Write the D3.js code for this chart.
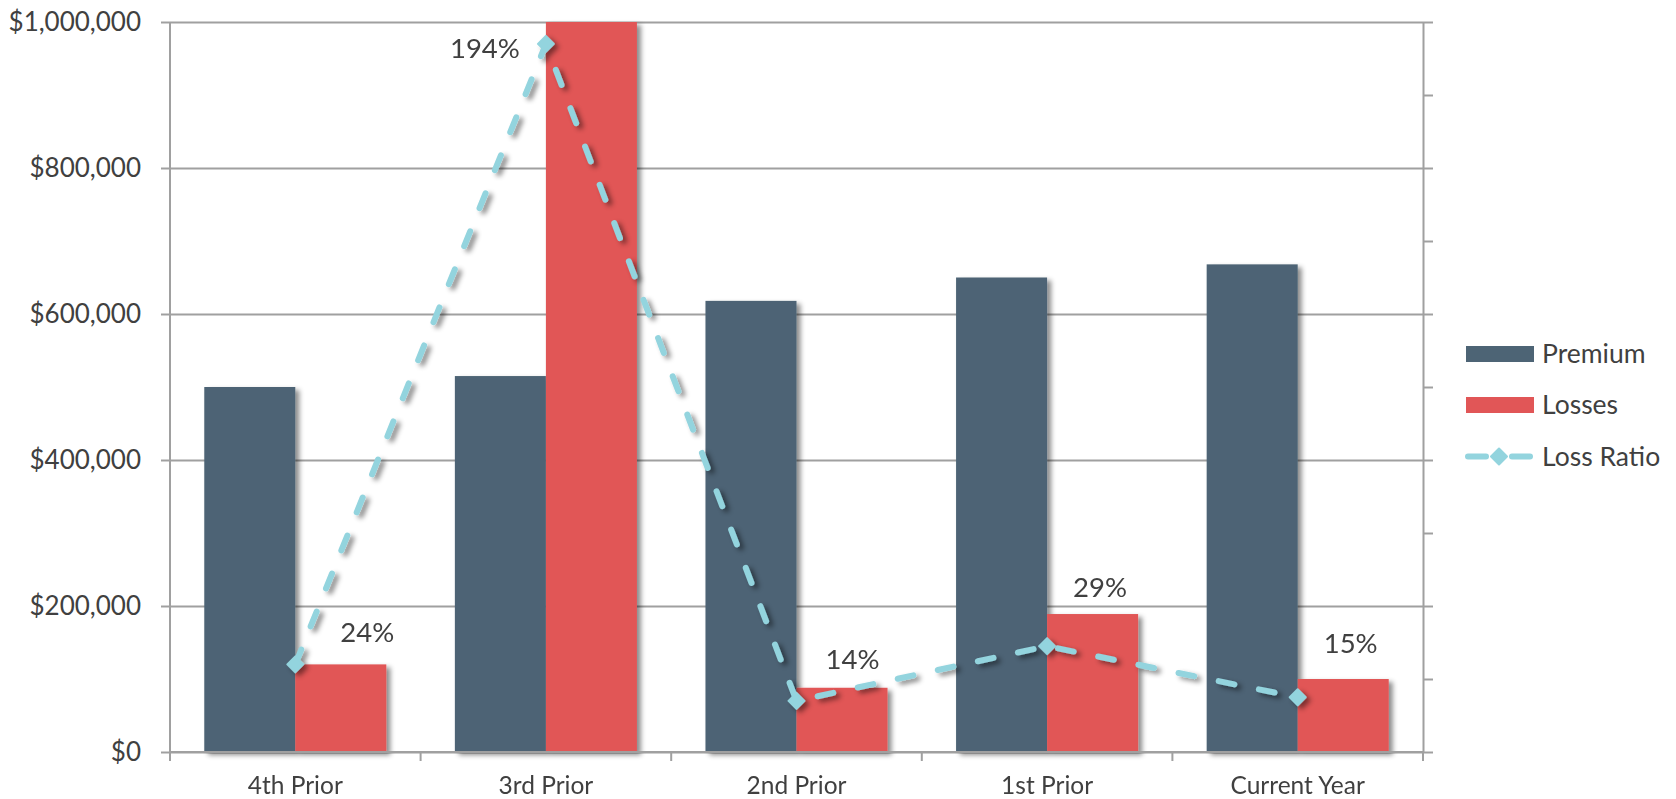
<!DOCTYPE html>
<html>
<head>
<meta charset="utf-8">
<script src="https://cdn.jsdelivr.net/npm/d3@7/dist/d3.min.js"></script>
<style>
  html, body { margin: 0; padding: 0; background: #ffffff; }
  svg { display: block; font-family: Lato, "Open Sans", "Noto Sans", sans-serif; }
</style>
</head>
<body>
<svg id="chart" width="1676" height="799"></svg>
<script>
// Policy years on the category axis
const categories = ["4th Prior", "3rd Prior", "2nd Prior", "1st Prior", "Current Year"];
// Written premium per year (USD)
const premium = [500000, 515000, 618000, 650000, 668000];
// Incurred losses per year (USD)
const losses = [120000, 1000000, 88000, 189000, 100000];
// Loss ratio per year (share of premium)
const lossRatio = [0.24, 1.94, 0.14, 0.29, 0.15];
// Left axis ticks (USD)
const moneyTicks = [0, 200000, 400000, 600000, 800000, 1000000];
// Right axis ticks (ratio, unlabelled)
const ratioTicks = [0, 0.2, 0.4, 0.6, 0.8, 1.0, 1.2, 1.4, 1.6, 1.8, 2.0];
const seriesNames = ["Premium", "Losses", "Loss Ratio"];

// Label nudges for the loss-ratio labels, relative to each marker
const labelNudge = [[72, -32], [-61, 4], [56, -42], [53, -59], [53, -54]];

const colors = { premium: "#4d6475", losses: "#e15657", ratio: "#93d4de", text: "#404040", grid: "#a0a0a0" };

const svg = d3.select("#chart");
const plot = { left: 170, right: 1423, top: 22, bottom: 752 };

// Drop shadow used by bars and the ratio line
const defs = svg.append("defs");
const shadow = defs.append("filter").attr("id", "shadow")
  .attr("x", "-20%").attr("y", "-20%").attr("width", "150%").attr("height", "150%");
shadow.append("feDropShadow")
  .attr("dx", 4).attr("dy", 3).attr("stdDeviation", 2.6)
  .attr("flood-color", "#000").attr("flood-opacity", 0.45);

const x = d3.scaleBand().domain(categories)
  .range([plot.left, plot.right]).paddingInner(0.2735).paddingOuter(0.2735 / 2);
const xSeries = d3.scaleBand().domain(["premium", "losses"]).range([0, x.bandwidth()]).padding(0);
const yMoney = d3.scaleLinear().domain([0, 1000000]).range([plot.bottom, plot.top]);
const yRatio = d3.scaleLinear().domain([0, 2]).range([plot.bottom, plot.top]);

// Horizontal gridlines with left ticks
const fmtMoney = v => "$" + d3.format(",")(v);
const leftAxis = d3.axisLeft(yMoney).tickValues(moneyTicks).tickFormat(fmtMoney)
  .tickSizeInner(-(plot.right - plot.left)).tickSizeOuter(0).tickPadding(29);
const gLeft = svg.append("g").attr("transform", `translate(${plot.left},0)`).call(leftAxis);
gLeft.select(".domain").remove();
gLeft.selectAll(".tick line").attr("stroke", colors.grid).attr("stroke-width", 2);
gLeft.selectAll(".tick").append("line")
  .attr("x1", -9).attr("x2", 0).attr("stroke", colors.grid).attr("stroke-width", 2);
gLeft.selectAll(".tick text").attr("fill", colors.text).attr("font-size", 26)
  .attr("font-family", "Lato, sans-serif");

// Bars
const groups = svg.append("g").attr("filter", "url(#shadow)");
categories.forEach((c, i) => {
  const g = groups.append("g").attr("transform", `translate(${x(c)},0)`);
  g.append("rect")
    .attr("x", xSeries("premium")).attr("width", xSeries.bandwidth())
    .attr("y", yMoney(premium[i])).attr("height", yMoney(0) - yMoney(premium[i]))
    .attr("fill", colors.premium);
  g.append("rect")
    .attr("x", xSeries("losses")).attr("width", xSeries.bandwidth())
    .attr("y", yMoney(losses[i])).attr("height", yMoney(0) - yMoney(losses[i]))
    .attr("fill", colors.losses);
});

// Vertical axis lines
svg.append("line").attr("x1", plot.left).attr("x2", plot.left)
  .attr("y1", plot.top).attr("y2", plot.bottom + 9)
  .attr("stroke", colors.grid).attr("stroke-width", 2);

// Right axis (ratio), ticks only
const rightAxis = d3.axisRight(yRatio).tickValues(ratioTicks).tickFormat("").tickSizeInner(10).tickSizeOuter(0);
const gRight = svg.append("g").attr("transform", `translate(${plot.right},0)`).call(rightAxis);
gRight.select(".domain").attr("stroke", colors.grid).attr("stroke-width", 2);
gRight.selectAll(".tick line").attr("stroke", colors.grid).attr("stroke-width", 2);

// Category axis
const boundaries = d3.range(categories.length + 1).map(i => plot.left + i * x.step());
svg.append("line").attr("x1", plot.left).attr("x2", plot.right)
  .attr("y1", plot.bottom).attr("y2", plot.bottom)
  .attr("stroke", colors.grid).attr("stroke-width", 2);
svg.append("g").selectAll("line").data(boundaries).join("line")
  .attr("x1", d => d).attr("x2", d => d)
  .attr("y1", plot.bottom).attr("y2", plot.bottom + 9)
  .attr("stroke", colors.grid).attr("stroke-width", 2);
svg.append("g").selectAll("text").data(categories).join("text")
  .attr("x", d => x(d) + x.bandwidth() / 2).attr("y", 794)
  .attr("text-anchor", "middle").attr("font-size", 24.5).attr("fill", colors.text)
  .text(d => d);

// Loss ratio line
const pts = categories.map((c, i) => [x(c) + x.bandwidth() / 2, yRatio(lossRatio[i])]);
const gLine = svg.append("g").attr("filter", "url(#shadow)");
gLine.append("path")
  .attr("d", d3.line()(pts))
  .attr("fill", "none").attr("stroke", colors.ratio).attr("stroke-width", 6)
  .attr("stroke-dasharray", "16 25").attr("stroke-linecap", "round");
const diamond = r => `M0,${-r}L${r},0L0,${r}L${-r},0Z`;
gLine.selectAll("path.marker").data(pts).join("path").attr("class", "marker")
  .attr("transform", d => `translate(${d[0]},${d[1]})`)
  .attr("d", diamond(8)).attr("fill", colors.ratio)
  .attr("stroke", colors.ratio).attr("stroke-width", 2).attr("stroke-linejoin", "round");

// Loss ratio labels
svg.append("g").selectAll("text").data(pts).join("text")
  .attr("x", (d, i) => d[0] + labelNudge[i][0])
  .attr("y", (d, i) => d[1] + labelNudge[i][1])
  .attr("dy", "0.35em").attr("text-anchor", "middle")
  .attr("font-size", 27.5).attr("fill", colors.text)
  .text((d, i) => d3.format(".0%")(lossRatio[i]));

// Legend
const legend = svg.append("g").attr("transform", "translate(1466,0)");
const legendRows = [
  { name: seriesNames[0], y: 354, kind: "bar", color: colors.premium },
  { name: seriesNames[1], y: 405, kind: "bar", color: colors.losses },
  { name: seriesNames[2], y: 456.5, kind: "line", color: colors.ratio }
];
legendRows.forEach(r => {
  if (r.kind === "bar") {
    legend.append("rect").attr("x", 0).attr("y", r.y - 8).attr("width", 68).attr("height", 16).attr("fill", r.color);
  } else {
    legend.append("line").attr("x1", 2).attr("x2", 20).attr("y1", r.y).attr("y2", r.y)
      .attr("stroke", r.color).attr("stroke-width", 6).attr("stroke-linecap", "round");
    legend.append("line").attr("x1", 46).attr("x2", 64).attr("y1", r.y).attr("y2", r.y)
      .attr("stroke", r.color).attr("stroke-width", 6).attr("stroke-linecap", "round");
    legend.append("path").attr("transform", `translate(33,${r.y})`).attr("d", diamond(8))
      .attr("fill", r.color).attr("stroke", r.color).attr("stroke-width", 2).attr("stroke-linejoin", "round");
  }
  legend.append("text").attr("x", 76).attr("y", r.y).attr("dy", "0.35em")
    .attr("font-size", 26.5).attr("fill", colors.text).text(r.name);
});
</script>
</body>
</html>
